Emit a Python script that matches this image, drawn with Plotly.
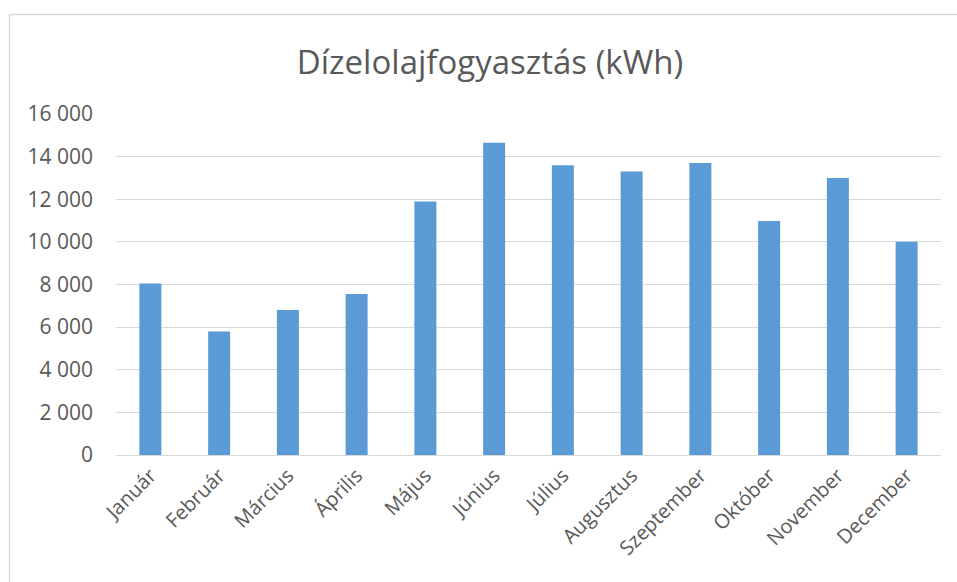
import plotly.graph_objects as go

months = ["Január", "Február", "Március", "Április", "Május", "Június",
          "Július", "Augusztus", "Szeptember", "Október", "November", "December"]
consumption = [8050, 5800, 6800, 7550, 11900, 14650, 13600, 13300, 13700, 10980, 13000, 10000]
y_ticks = [0, 2000, 4000, 6000, 8000, 10000, 12000, 14000, 16000]

fig = go.Figure(go.Bar(
    x=months, y=consumption,
    marker=dict(color="#5b9bd5", line=dict(color="#5b9bd5", width=0)),
))

W, H = 957, 582
L, R, T, B = 116, 16, 114, 127
pw, ph = W - L - R, H - T - B

def px_x(x):
    return (x - L) / pw

def px_y(y):
    return (H - B - y) / ph

fig.update_layout(
    width=W, height=H,
    margin=dict(l=L, r=R, t=T, b=B),
    plot_bgcolor="white", paper_bgcolor="white",
    separators=", ",
    bargap=0.68,
    showlegend=False,
    font=dict(family="Open Sans", color="#595959"),
    title=dict(text="Dízelolajfogyasztás (kWh)", x=490 / W, xanchor="center",
               y=1 - 62 / H, yanchor="middle", yref="container",
               font=dict(size=33, color="#595959", family="Open Sans")),
    xaxis=dict(tickangle=-45, tickfont=dict(size=20, color="#595959"),
               showline=False, ticks="", showgrid=False, ticklabelstandoff=4),
    yaxis=dict(range=[0, 16000], tickvals=y_ticks, tickformat=",d",
               tickfont=dict(size=21, color="#595959"),
               showgrid=True, gridcolor="#d9d9d9", gridwidth=1.3,
               zeroline=True, zerolinecolor="#d9d9d9", zerolinewidth=1.3,
               ticks="", ticklabelstandoff=22, showline=False),
    shapes=[
        dict(type="line", xref="paper", yref="paper",
             x0=px_x(9.5), x1=px_x(W + 5), y0=px_y(14.5), y1=px_y(14.5),
             line=dict(color="#d9d9d9", width=1.5)),
        dict(type="line", xref="paper", yref="paper",
             x0=px_x(9.5), x1=px_x(9.5), y0=px_y(14.5), y1=px_y(H + 5),
             line=dict(color="#d9d9d9", width=1.5)),
    ],
)

fig.write_html("out.html", config={"displayModeBar": False},
               post_script="document.body.style.margin='0';")
